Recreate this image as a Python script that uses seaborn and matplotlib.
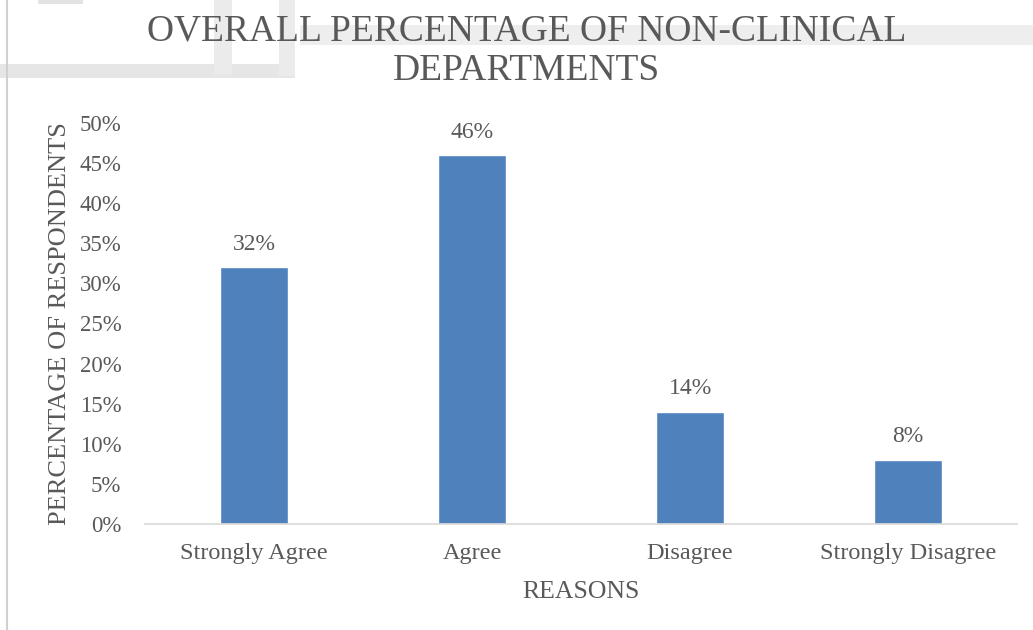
import numpy as np
import pandas as pd
import seaborn as sns
import matplotlib.pyplot as plt
from matplotlib.patches import Rectangle
from matplotlib.ticker import PercentFormatter

# values
categories = ['Strongly Agree', 'Agree', 'Disagree', 'Strongly Disagree']
percentages = [0.32, 0.46, 0.14, 0.08]
y_ticks = [0.0, 0.05, 0.10, 0.15, 0.20, 0.25, 0.30, 0.35, 0.40, 0.45, 0.50]

df = pd.DataFrame({'reason': categories, 'share': percentages})

sns.set_style('white')
plt.rcParams['font.family'] = ['Liberation Serif', 'DejaVu Serif']
grey_text = '#595959'

fig = plt.figure(figsize=(10.33, 6.3), dpi=100)

# faint scan watermark behind the title (figure coords, pixels / size)
W, H = 1033, 630
for x0, y0, w, h, c in [
    (0, 64, 295, 14, '#E6E6E6'),
    (214, 0, 18, 74, '#EBEBEB'),
    (279, 0, 16, 76, '#EBEBEB'),
    (300, 25, 733, 20, '#EEEEEE'),
    (38, 0, 45, 4, '#E3E3E3'),
]:
    fig.add_artist(Rectangle((x0 / W, 1 - (y0 + h) / H), w / W, h / H,
                             transform=fig.transFigure, color=c, lw=0, zorder=0))

ax = fig.add_axes([0.1404, 0.1683, 0.8442, 0.6365])
ax.patch.set_alpha(0)

sns.barplot(data=df, x='reason', y='share', color='#4F81BD', width=0.31,
            saturation=1, ax=ax)

ax.set_xlim(-0.5, 3.5)
ax.set_ylim(0, 0.5)
ax.set_yticks(y_ticks)
ax.yaxis.set_major_formatter(PercentFormatter(1.0, decimals=0))
ax.tick_params(axis='both', length=0, labelsize=16.5, labelcolor=grey_text)
ax.tick_params(axis='x', labelsize=17.5, pad=14)
ax.tick_params(axis='y', pad=17)

for side in ['left', 'right', 'top']:
    ax.spines[side].set_visible(False)
ax.spines['bottom'].set_color('#D9D9D9')
ax.spines['bottom'].set_linewidth(1.2)

for i, v in enumerate(df['share']):
    ax.annotate(f'{v:.0%}', (i, v), xytext=(0, 9), textcoords='offset points',
                ha='center', va='bottom', fontsize=17, color=grey_text)

ax.set_xlabel('REASONS', fontsize=18.5, color=grey_text, labelpad=12)
ax.set_ylabel('PERCENTAGE OF RESPONDENTS', fontsize=19, color=grey_text, labelpad=6)

fig.text(0.51, 0.978, 'OVERALL PERCENTAGE OF NON-CLINICAL\nDEPARTMENTS',
         ha='center', va='top', fontsize=27, color=grey_text, linespacing=1.2)

# faint left page border seen in the reference
fig.add_artist(plt.Line2D([0.007, 0.007], [0.0, 1.0], color='#D0D0D0', lw=1.5,
                          transform=fig.transFigure))

fig.savefig('out.png', dpi=100)
